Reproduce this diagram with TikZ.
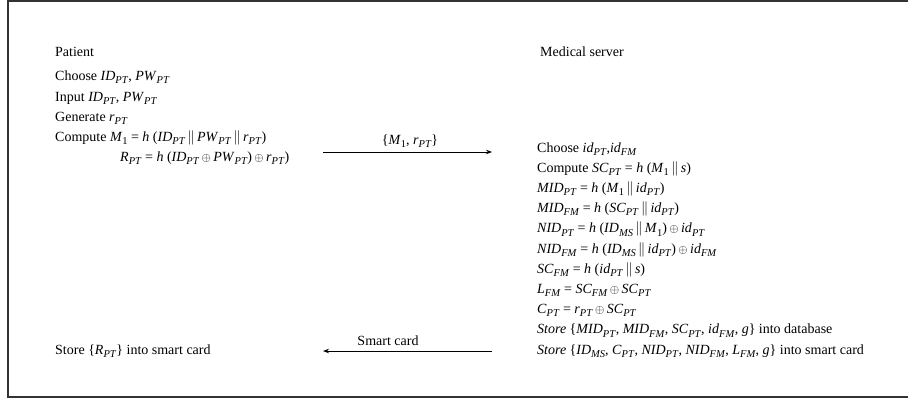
\documentclass[tikz,border=0pt]{standalone}
\usepackage{fontspec}
\usetikzlibrary{arrows.meta}
\setmainfont{Liberation Serif}
\newcommand\Sb[1]{\raisebox{-3.2pt}{\fontsize{10.5}{10.5}\selectfont #1}}
\newcommand\V[2]{\textit{#1}\Sb{\textit{#2}}}
\newcommand\Mone{\textit{M}\Sb{1}}
\newcommand\Or{\,$\|$\,}
\newcommand\Xo{\,{\fontsize{12}{12}\selectfont$\oplus$}\,}
\newcommand\Hh{\textit{h}}
\begin{document}
\begin{tikzpicture}[x=1pt,y=-1pt,
  txt/.style={anchor=base west, inner sep=0pt, font=\fontsize{14}{16}\selectfont},
  lbl/.style={anchor=base, inner sep=0pt, font=\fontsize{14}{16}\selectfont},
  msg/.style={line width=1pt, -{Stealth[length=6pt,width=4.5pt]}}]
\useasboundingbox (0,0) rectangle (908,407);
\draw[line width=1.2pt, draw=black!80] (8,1) rectangle (920,397);
% headers
\node[txt] (pt) at (55,56) {Patient};
\node[txt] (ms) at (540,56) {Medical server};
% patient side
\node[txt] (p1) at (55,80) {Choose \V{ID}{PT}, \V{PW}{PT}};
\node[txt] (p2) at (55,101) {Input \V{ID}{PT}, \V{PW}{PT}};
\node[txt] (p3) at (55,121) {Generate \V{r}{PT}};
\node[txt] (p4) at (55,141) {Compute \Mone{} = \Hh{} (\V{ID}{PT}\Or\V{PW}{PT}\Or\V{r}{PT})};
\node[txt] (p5) at (120,161) {\V{R}{PT} = \Hh{} (\V{ID}{PT}\Xo\V{PW}{PT})\Xo\V{r}{PT})};
\node[txt] (p6) at (55,354) {Store \{\V{R}{PT}\} into smart card};
% server side
\node[txt] (s1) at (537,152) {Choose \V{id}{PT},\V{id}{FM}};
\node[txt] (s2) at (537,172.2) {Compute \V{SC}{PT} = \Hh{} (\Mone\Or\textit{s})};
\node[txt] (s3) at (537,192.4) {\V{MID}{PT} = \Hh{} (\Mone\Or\V{id}{PT})};
\node[txt] (s4) at (537,212.6) {\V{MID}{FM} = \Hh{} (\V{SC}{PT}\Or\V{id}{PT})};
\node[txt] (s5) at (537,232.8) {\V{NID}{PT} = \Hh{} (\V{ID}{MS}\Or\Mone)\Xo\V{id}{PT}};
\node[txt] (s6) at (537,253) {\V{NID}{FM} = \Hh{} (\V{ID}{MS}\Or\V{id}{PT})\Xo\V{id}{FM}};
\node[txt] (s7) at (537,273.2) {\V{SC}{FM} = \Hh{} (\V{id}{PT}\Or\textit{s})};
\node[txt] (s8) at (537,293.4) {\V{L}{FM} = \V{SC}{FM}\Xo\V{SC}{PT}};
\node[txt] (s9) at (537,313.6) {\V{C}{PT} = \V{r}{PT}\Xo\V{SC}{PT}};
\node[txt] (s10) at (537,333.8) {\textit{Store} \{\V{MID}{PT}, \V{MID}{FM}, \V{SC}{PT}, \V{id}{FM}, \textit{g}\} into database};
\node[txt] (s11) at (537,354) {\textit{Store} \{\V{ID}{MS}, \V{C}{PT}, \V{NID}{PT}, \V{NID}{FM}, \V{L}{FM}, \textit{g}\} into smart card};
% messages
\coordinate (m1a) at (323,152);
\coordinate (m1b) at (492,152);
\coordinate (m2a) at (492,351);
\coordinate (m2b) at (323,351);
\draw[msg] (m1a) -- (m1b);
\node[lbl] (l1) at (410,144) {\{\Mone, \V{r}{PT}\}};
\draw[msg] (m2a) -- (m2b);
\node[lbl] (l2) at (388,345) {Smart card};
\end{tikzpicture}
\end{document}
